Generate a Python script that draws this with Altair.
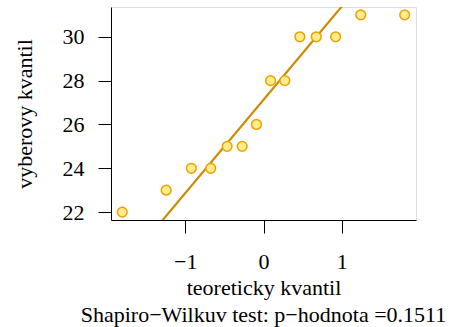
import altair as alt
import pandas as pd

# theoretical normal quantiles (x) and sorted sample values (y)
theoretical = [-1.803, -1.242, -0.921, -0.674, -0.464, -0.272, -0.090,
               0.090, 0.272, 0.464, 0.674, 0.921, 1.242, 1.803]
sample = [22, 23, 24, 24, 25, 25, 26, 28, 28, 30, 30, 30, 31, 31]

# Q-Q reference line through the quartiles
line_intercept = 27.125
line_slope = 4.263

x_domain = [-1.947, 1.947]
y_domain = [21.64, 31.36]

x_ticks = [-1, 0, 1]
y_ticks = [22, 24, 26, 28, 30]

FONT = "Liberation Serif, Times New Roman, serif"
FS = 22

points = pd.DataFrame({"tq": theoretical, "sq": sample})
line_df = pd.DataFrame({
    "tq": x_domain,
    "sq": [line_intercept + line_slope * v for v in x_domain],
})

xs = alt.Scale(domain=x_domain, nice=False, zero=False)
ys = alt.Scale(domain=y_domain, nice=False, zero=False)

x_axis = alt.Axis(values=x_ticks, title="teoreticky kvantil", grid=False, format="d",
                  tickSize=13, labelPadding=18, titlePadding=5,
                  labelExpr="replace(datum.label, '-', '−')")
y_axis = alt.Axis(values=y_ticks, title="vyberovy kvantil", grid=False,
                  tickSize=13, labelPadding=14, titlePadding=26)

line = alt.Chart(line_df).mark_line(color="#CD8C00", strokeWidth=2.2, clip=True).encode(
    x=alt.X("tq:Q", scale=xs, axis=x_axis),
    y=alt.Y("sq:Q", scale=ys, axis=y_axis),
)

pts = alt.Chart(points).mark_point(
    shape="circle", filled=True, fill="#FFEC8B", stroke="#F0A000",
    strokeWidth=1.5, size=95, opacity=1, clip=True,
).encode(
    x=alt.X("tq:Q", scale=xs),
    y=alt.Y("sq:Q", scale=ys),
)

chart = alt.layer(line, pts).properties(
    width=305, height=213,
    title=alt.TitleParams(
        "Shapiro−Wilkuv test: p−hodnota =0.1511", orient="bottom", anchor="middle",
        font=FONT, fontSize=FS, fontWeight="normal", color="black", offset=7,
    ),
    autosize=alt.AutoSizeParams(type="none"),
    padding={"left": 111, "top": 7, "right": 35, "bottom": 107},
).configure_view(stroke="black", strokeWidth=1).configure(
    background="white", font=FONT
).configure_axis(
    labelFont=FONT, titleFont=FONT, labelFontSize=FS, titleFontSize=FS,
    titleFontWeight="normal", domainColor="black", tickColor="black",
    labelColor="black", titleColor="black", tickWidth=1, domainWidth=1,
)

chart.save("out.html", embed_options={"renderer": "svg", "actions": False})
